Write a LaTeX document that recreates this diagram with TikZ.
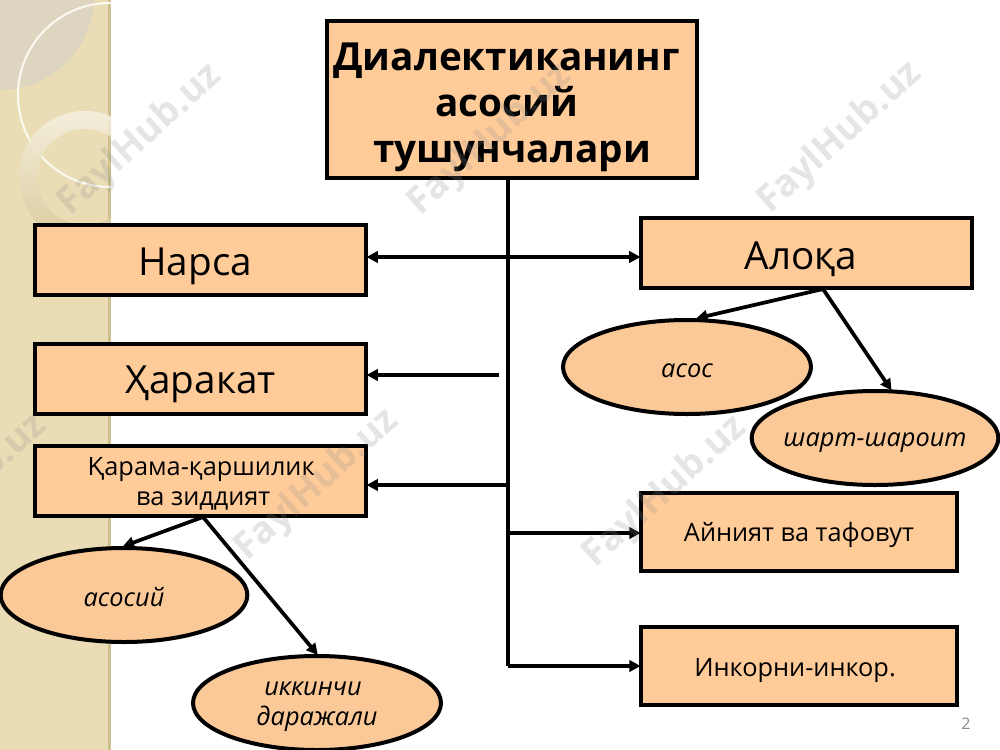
\documentclass[tikz,border=0pt]{standalone}
\usepackage{fontspec}
\setmainfont{Open Sans}
\usetikzlibrary{arrows.meta,shapes.geometric}
\definecolor{boxfill}{HTML}{FFCB99}
\definecolor{ellfill}{HTML}{FBC998}
\definecolor{band}{HTML}{EADDB6}
\definecolor{bandedge}{HTML}{CFC08F}
\definecolor{disc}{HTML}{DDD5BF}
\definecolor{wmark}{HTML}{8C8C8C}
\newcommand{\fsz}[2]{\fontsize{#1}{#2}\selectfont}
\newcommand{\dn}[2]{\raisebox{-#1}[\height][\depth]{#2}}
\tikzset{
  boxn/.style={draw=black,fill=boxfill,line width=3pt,rectangle,inner sep=0pt,align=center},
  elln/.style={draw=black,fill=ellfill,line width=3pt,ellipse,inner sep=0pt,align=center},
  conn/.style={draw=black,line width=2.8pt,-{Triangle[length=8.5pt,width=8.5pt]},shorten >=-1pt},
  wm/.style={font=\bfseries\fsz{28}{30},text=wmark,opacity=.22,rotate=42,inner sep=0pt}
}
\begin{document}
\begin{tikzpicture}[x=0.75pt,y=-0.75pt]
\useasboundingbox (0,0) rectangle (1000,750);
\fill[white] (0,0) rectangle (1000,750);
% left decorative band
\begin{scope}
\clip (0,0) rectangle (111,750);
\fill[band] (0,0) rectangle (111,750);
\fill[bandedge] (108,0) rectangle (111,750);
\fill[disc] (0,-4) circle (94);
\draw[line width=1.6pt,draw=white!80!band] (110,95) circle (92);
\path[even odd rule,top color=white!60!band,bottom color=bandedge!70!band,opacity=.85] (85,177) circle (66) (85,177) circle (48);
\end{scope}
% boxes
\node[boxn,minimum width=277.5pt,minimum height=118pt,font=\bfseries\fsz{29}{34.5}] (title) at (512,99.5)
  {\hspace*{-8pt}\dn{6pt}{Диалектиканинг}\\\hspace*{-8pt}\dn{6pt}{асосий}\\\dn{6pt}{тушунчалари}};
\node[boxn,minimum width=248pt,minimum height=52.5pt,font=\fsz{29}{34}] (narsa) at (200.5,260) {\hspace*{-8pt}\dn{4.5pt}{Нарса}};
\node[boxn,minimum width=248pt,minimum height=52.5pt,font=\fsz{29}{34}] (harakat) at (200.5,379) {\dn{4.2pt}{Ҳаракат}};
\node[boxn,minimum width=248pt,minimum height=52.5pt,font=\fsz{19}{22.5}] (qarama) at (200.5,481) {\hspace*{1pt}\dn{1.75pt}{Қарама-қаршилик}\\\hspace*{4pt}\dn{1.75pt}{ва зиддият}};
\node[boxn,minimum width=248pt,minimum height=52.5pt,font=\fsz{29}{34}] (aloqa) at (806.5,253) {\hspace*{-8pt}\dn{4.5pt}{Алоқа}};
\node[boxn,minimum width=236.5pt,minimum height=58pt,font=\fsz{19}{22.5}] (ayniyat) at (799,532) {\dn{2pt}{Айният ва тафовут}};
\node[boxn,minimum width=236.5pt,minimum height=58pt,font=\fsz{19}{22.5}] (inkor) at (799,666) {\hspace*{-6pt}\dn{3.2pt}{Инкорни-инкор.}};
% ellipses
\node[elln,minimum width=186pt,minimum height=70.5pt,font=\itshape\fsz{19}{22.5}] (asos) at (687,367) {\dn{2.5pt}{асос}};
\node[elln,minimum width=185pt,minimum height=70.5pt,font=\itshape\fsz{19}{22.5}] (shart) at (875,438) {\makebox[0pt]{\dn{3.2pt}{шарт-шароит}}};
\node[elln,minimum width=185pt,minimum height=70.5pt,font=\itshape\fsz{19}{22.5}] (asosiy) at (124,595) {\dn{1.75pt}{асосий}};
\node[elln,minimum width=186pt,minimum height=70.5pt,font=\itshape\fsz{19}{22.5}] (ikkinchi) at (317,703) {\hspace*{-6pt}\dn{3pt}{иккинчи}\\\dn{3pt}{даражали}};
% free-end coordinates
\coordinate (trunkend) at (508,666);
\coordinate (harakatfree) at (499,375);
\coordinate (narsay) at (508,257);
\coordinate (qaramay) at (508,485);
\coordinate (ayniyaty) at (508,533);
\coordinate (qaramaout) at (203,517);
\coordinate (aloqaout) at (823,289);
% trunk and connectors
\draw[black,line width=3.2pt] (title.south -| trunkend) -- (trunkend);
\draw[conn,{Triangle[length=8.5pt,width=8.5pt]}-{Triangle[length=8.5pt,width=8.5pt]},shorten <=-1pt] (narsa.east |- narsay) -- (aloqa.west |- narsay);
\draw[conn] (harakatfree) -- (harakat.east |- harakatfree);
\draw[conn] (qaramay) -- (qarama.east |- qaramay);
\draw[conn] (ayniyaty) -- (ayniyat.west |- ayniyaty);
\draw[conn] (trunkend) -- (inkor.west |- trunkend);
\draw[conn] (aloqaout) -- (asos.78);
\draw[conn] (aloqaout) -- (shart.72);
\draw[conn] (qaramaout) -- (asosiy.north);
\draw[conn] (qaramaout) -- (ikkinchi.north);
% page number
\node[text=black!45,font=\fsz{12}{14},inner sep=0pt] (pagenum) at (966,724) {2};
% watermark
\begin{scope}
\clip (0,0) rectangle (1000,750);
\node[wm] (wma) at (140,140) {FaylHub.uz};
\node[wm] (wmb) at (490,140) {FaylHub.uz};
\node[wm] (wmc) at (840,138) {FaylHub.uz};
\node[wm] (wmd) at (-35,490) {FaylHub.uz};
\node[wm] (wme) at (317,485) {FaylHub.uz};
\node[wm] (wmf) at (665,492) {FaylHub.uz};
\end{scope}
\end{tikzpicture}
\end{document}
